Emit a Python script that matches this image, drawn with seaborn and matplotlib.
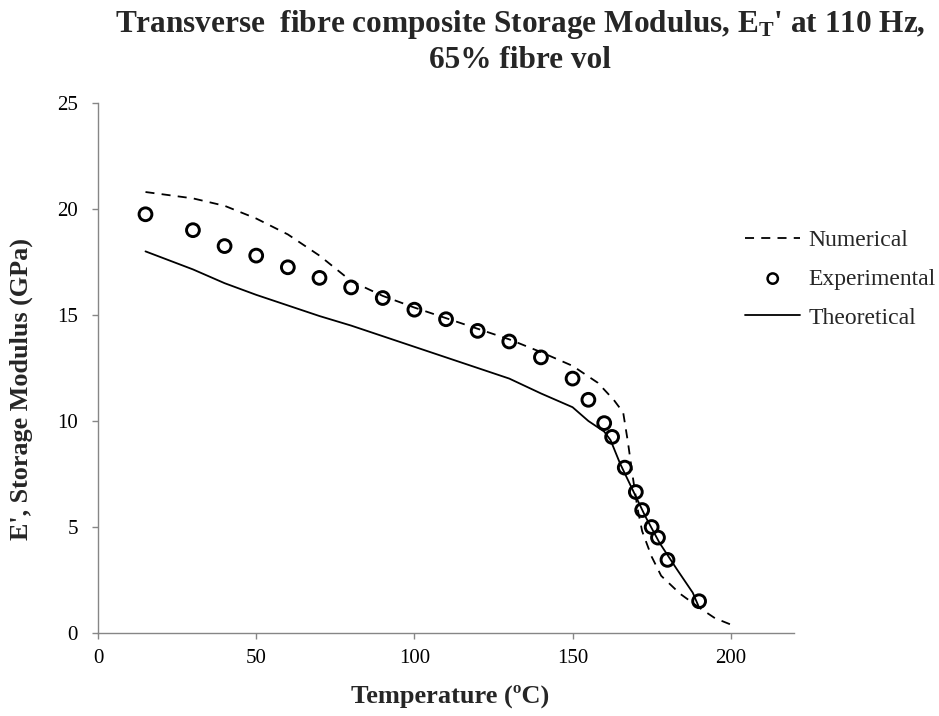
import matplotlib
matplotlib.use("Agg")
import matplotlib.pyplot as plt
import seaborn as sns
import pandas as pd

# Data
num_x = [15, 30, 40, 50, 60, 70, 80, 90, 100, 110, 120, 130, 140, 150, 158, 163, 166, 167.5, 169, 170.5, 172, 175, 178, 184, 190, 195, 200]
num_y = [20.8, 20.5, 20.15, 19.55, 18.8, 17.8, 16.6, 15.9, 15.35, 14.85, 14.35, 13.85, 13.25, 12.6, 11.8, 11.0, 10.4, 9.0, 7.4, 5.9, 4.8, 3.6, 2.7, 1.85, 1.2, 0.7, 0.4]

exp_x = [15, 30, 40, 50, 60, 70, 80, 90, 100, 110, 120, 130, 140, 150, 155, 160, 162.5, 166.5, 170, 172, 175, 177, 180, 190]
exp_y = [19.75, 19.0, 18.25, 17.8, 17.25, 16.75, 16.3, 15.8, 15.25, 14.8, 14.25, 13.75, 13.0, 12.0, 11.0, 9.9, 9.25, 7.8, 6.65, 5.8, 5.0, 4.5, 3.45, 1.5]

the_x = [15, 30, 40, 50, 60, 70, 80, 90, 100, 110, 120, 130, 140, 150, 155, 160, 162, 165, 169, 173, 177.5, 183, 188, 190]
the_y = [18.0, 17.15, 16.5, 15.95, 15.45, 14.95, 14.5, 14.0, 13.5, 13.0, 12.5, 12.0, 11.3, 10.65, 10.0, 9.5, 9.1, 8.0, 6.75, 5.5, 4.25, 3.0, 1.9, 1.2]

x_ticks = [0, 50, 100, 150, 200]
y_ticks = [0, 5, 10, 15, 20, 25]

title_line1 = "Transverse  fibre composite Storage Modulus, E$_\\mathregular{T}$' at 110 Hz,"
title_line2 = "65% fibre vol"
xlabel = "Temperature (ºC)"
ylabel = "E', Storage Modulus (GPa)"

sns.set_style("white")
plt.rcParams['font.family'] = ['Liberation Serif', 'DejaVu Serif']
plt.rcParams['mathtext.default'] = 'regular'

fig = plt.figure(figsize=(9.39, 7.16), dpi=100)
ax = fig.add_axes([0.1044, 0.1159, 0.7412, 0.7403])

df_num = pd.DataFrame({"x": num_x, "y": num_y})
df_exp = pd.DataFrame({"x": exp_x, "y": exp_y})
df_the = pd.DataFrame({"x": the_x, "y": the_y})

sns.lineplot(data=df_num, x="x", y="y", ax=ax, color="black", linewidth=1.3,
             linestyle=(0, (5, 4)), label="Numerical", sort=False)
sns.scatterplot(data=df_exp, x="x", y="y", ax=ax, marker="o", s=85,
                facecolor="none", edgecolor="black", linewidth=2.1,
                label="Experimental", zorder=3)
sns.lineplot(data=df_the, x="x", y="y", ax=ax, color="black", linewidth=1.3,
             label="Theoretical", sort=False)

ax.set_xlim(0, 220)
ax.set_ylim(0, 25)
ax.set_xticks(x_ticks)
ax.set_yticks(y_ticks)
ax.tick_params(axis='both', which='major', direction='out', length=4.5, width=1,
               color='#868686', labelsize=15, labelcolor='black',
               bottom=True, left=True)
ax.tick_params(axis='x', pad=7)
ax.tick_params(axis='y', pad=10)
for s in ['top', 'right']:
    ax.spines[s].set_visible(False)
for s in ['left', 'bottom']:
    ax.spines[s].set_color('#868686')
    ax.spines[s].set_linewidth(1.0)

ax.set_xlabel(xlabel, fontsize=19, fontweight='bold')
ax.set_ylabel(ylabel, fontsize=18.8, fontweight='bold')
ax.xaxis.set_label_coords(0.506, -0.097)
ax.yaxis.set_label_coords(-0.093, 0.46)

fig.text(0.554, 1 - 32 / 716, title_line1, fontsize=22.5, fontweight='bold',
         ha='center', va='baseline')
fig.text(0.554, 1 - 68 / 716, title_line2, fontsize=22.5, fontweight='bold',
         ha='center', va='baseline')

handles, labels = ax.get_legend_handles_labels()
leg = ax.legend(handles, labels, loc='center left', bbox_to_anchor=(745 / 939, 1 - 279 / 716),
                bbox_transform=fig.transFigure, frameon=False, fontsize=17,
                handlelength=2.35, handletextpad=0.35, labelspacing=0.73,
                borderpad=0, borderaxespad=0)
for h in leg.legend_handles:
    if hasattr(h, "set_sizes"):
        h.set_sizes([55])
        h.set_linewidth(1.8)

fig.savefig("out.png", dpi=100)
